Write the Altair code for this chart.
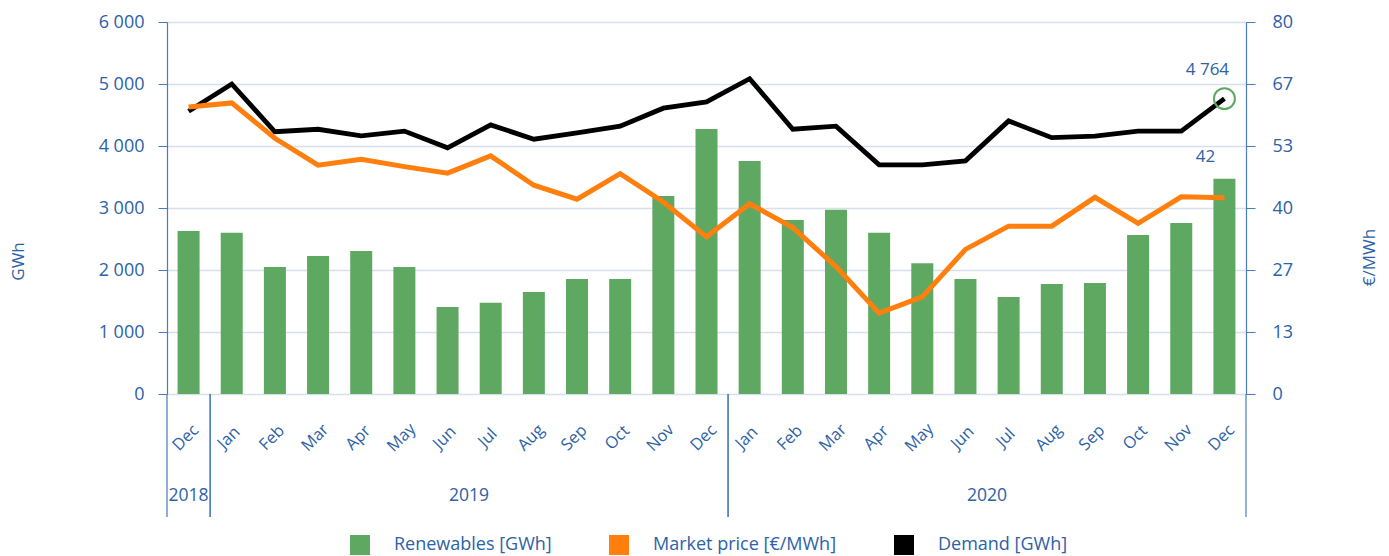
import json
import altair as alt
import pandas as pd

months = ["Dec", "Jan", "Feb", "Mar", "Apr", "May", "Jun", "Jul", "Aug", "Sep", "Oct", "Nov", "Dec",
          "Jan", "Feb", "Mar", "Apr", "May", "Jun", "Jul", "Aug", "Sep", "Oct", "Nov", "Dec"]
years = ["2018"] + ["2019"] * 12 + ["2020"] * 12
renewables = [2630, 2600, 2050, 2225, 2305, 2050, 1405, 1470, 1645, 1855, 1855, 3195, 4275,
              3760, 2805, 2970, 2600, 2110, 1855, 1565, 1775, 1790, 2565, 2760, 3470]
price = [61.7, 62.6, 55.0, 49.2, 50.5, 48.9, 47.5, 51.2, 44.9, 41.9, 47.4, 41.3, 33.8,
         40.9, 35.8, 27.4, 17.4, 20.9, 31.1, 36.1, 36.1, 42.3, 36.7, 42.4, 42.2]
demand = [4560, 5000, 4230, 4270, 4165, 4240, 3970, 4340, 4110, 4210, 4320, 4610, 4710,
          5085, 4270, 4320, 3695, 3695, 3760, 4405, 4135, 4160, 4240, 4240, 4764]
series = ["Renewables [GWh]", "Market price [€/MWh]", "Demand [GWh]"]
colors = ["#5fa862", "#ff7f0e", "#000000"]

left_ticks = [0, 1000, 2000, 3000, 4000, 5000, 6000]
right_max = 80
right_ticks = [right_max * k / 6 for k in range(7)]

TXT = "#2c62a6"
AX = "#4a7bba"
GRID = "#d5e0eb"
FONT = "Open Sans"
FS = 18

df = pd.DataFrame({
    "idx": list(range(len(months))),
    "month": months,
    "year": years,
    "renewables": renewables,
    "price": price,
    "demand": demand,
})

xscale = alt.Scale(domain=[-0.5, len(months) - 0.5], nice=False, zero=False, padding=0)
x_axis = alt.Axis(
    values=list(range(len(months))), labels=False,
    ticks=False, tickSize=0, grid=False, title=None,
    domainColor=AX, domainWidth=1.2,
)
color_scale = alt.Scale(domain=series, range=colors)
legend = alt.Legend(
    orient="none", legendX=183, legendY=513, direction="horizontal", columns=3,
    title=None, symbolType="square", symbolSize=400, symbolStrokeWidth=0,
    labelFontSize=FS, labelColor=TXT, labelFont=FONT, labelOffset=24, labelLimit=400,
    columnPadding=57, padding=0,
)


def series_color():
    return alt.Color("s:N", scale=color_scale, legend=legend)


def tag(chart, i):
    return chart.transform_calculate(s=json.dumps(series[i]))


left_scale = alt.Scale(domain=[0, 6000], nice=False)
right_scale = alt.Scale(domain=[0, right_max], nice=False)

base = alt.Chart(df)
X = alt.X("idx:Q", scale=xscale, axis=None)

bars = tag(base, 0).mark_bar(size=22).encode(
    x=alt.X("idx:Q", scale=xscale, axis=x_axis),
    y=alt.Y("renewables:Q", scale=left_scale, axis=alt.Axis(
        values=left_ticks,
        labelExpr="replace(format(datum.value, ','), ',', ' ')",
        tickSize=9, labelPadding=14, labelFontSize=FS, labelColor=TXT,
        tickColor=AX, domainColor=AX, domainWidth=1.2,
        grid=True, gridColor=GRID, gridWidth=1.5,
        title="GWh", titleFontSize=17, titleColor=TXT, titleFontWeight="normal",
        titleAngle=270, titleX=-149, titleY=239, titleAlign="center", titleBaseline="middle",
    )),
    color=series_color(),
)

demand_line = tag(base, 2).mark_line(strokeWidth=4.8).encode(
    x=X,
    y=alt.Y("demand:Q", scale=left_scale),
    color=series_color(),
)

last = base.transform_filter(f"datum.idx == {len(months) - 1}")

demand_label = last.transform_calculate(
    lbl="replace(format(datum.demand, ','), ',', ' ')"
).mark_text(fontSize=17, color=TXT, font=FONT, dx=-17, dy=-29).encode(
    x=X,
    y=alt.Y("demand:Q", scale=left_scale),
    text="lbl:N",
)

demand_circle = last.mark_point(shape="circle", size=440, filled=False,
                                stroke="#5fa862", strokeWidth=2, opacity=1).encode(
    x=X,
    y=alt.Y("demand:Q", scale=left_scale),
)

month_text = base.mark_text(fontSize=16.5, color=TXT, font=FONT, angle=315, dx=-4,
                            align="center", baseline="middle").encode(
    x=X,
    y=alt.value(413),
    text="month:N",
)

year_text = base.transform_aggregate(
    mid="mean(idx)", groupby=["year"]
).mark_text(fontSize=17.5, color=TXT, font=FONT, baseline="middle").encode(
    x=alt.X("mid:Q", scale=xscale, axis=None),
    y=alt.value(474),
    text="year:N",
)

year_rules = base.transform_aggregate(
    lo="min(idx)", hi="max(idx)", groupby=["year"]
).transform_calculate(
    b0="datum.lo - 0.5", b1="datum.hi + 0.5"
).transform_fold(["b0", "b1"], as_=["k", "b"]).mark_rule(color=AX, strokeWidth=1.2).encode(
    x=alt.X("b:Q", scale=xscale, axis=None),
    y=alt.value(372),
    y2=alt.value(495),
)

price_line = tag(base, 1).mark_line(strokeWidth=5).encode(
    x=X,
    y=alt.Y("price:Q", scale=right_scale, axis=alt.Axis(
        orient="right", values=right_ticks,
        labelExpr="format(datum.value, '.0f')",
        tickSize=9, labelPadding=17, labelFontSize=FS, labelColor=TXT,
        tickColor=AX, domainColor=AX, domainWidth=1.2, grid=False,
        title="€/MWh", titleFontSize=17, titleColor=TXT, titleFontWeight="normal",
        titleAngle=270, titleX=123, titleY=235, titleAlign="center", titleBaseline="middle",
    )),
    color=series_color(),
)

price_label = last.mark_text(fontSize=17, color=TXT, font=FONT, dx=-19, dy=-41).encode(
    x=X,
    y=alt.Y("price:Q", scale=right_scale),
    text=alt.Text("price:Q", format=".0f"),
)

left_group = alt.layer(year_rules, bars, demand_line, demand_circle, demand_label,
                       month_text, year_text)
right_group = alt.layer(price_line, price_label)

chart = alt.layer(left_group, right_group).resolve_scale(y="independent").properties(
    width=1079, height=372,
    autosize=alt.AutoSizeParams(type="none"),
    padding={"left": 159, "top": 14, "right": 135, "bottom": 162},
).configure_view(stroke=None).configure(font=FONT)

chart.save("out.html", embed_options={"renderer": "svg", "actions": False})
